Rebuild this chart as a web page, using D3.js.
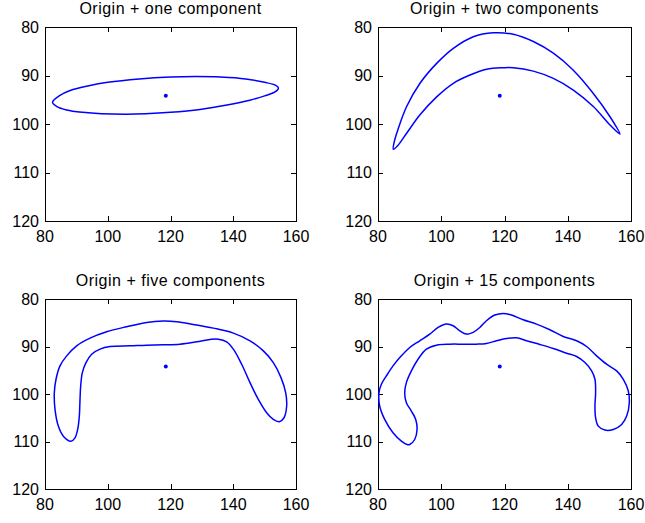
<!DOCTYPE html>
<html>
<head>
<meta charset="utf-8">
<script src="https://cdn.jsdelivr.net/npm/d3@7"></script>
<style>
  body { margin: 0; background: #fff; }
  svg { display: block; }
  text { font-family: "Liberation Sans", Arial, Helvetica, sans-serif; fill: #000; }
</style>
</head>
<body>
<div id="chart"></div>
<script>
// panel titles, ticks and the mean point
var titles = ["Origin + one component", "Origin + two components",
              "Origin + five components", "Origin + 15 components"];
var xTicks = [80, 100, 120, 140, 160];
var yTicks = [80, 90, 100, 110, 120];
var origin = [118.5, 94.2];

// outlines, [x, y] in data units
var oneComponent = [
  [82.4, 95.5], [84.5, 94.2], [88, 93.1], [94, 92.1], [100, 91.4], [110, 90.7],
  [120, 90.3], [128, 90.2], [136, 90.3], [144, 90.7], [150, 91.4], [153.4, 92.0],
  [154.4, 92.6], [153.3, 93.4], [150, 94.2], [145.3, 95.1], [138, 96.1],
  [129.4, 97.0], [120, 97.6], [112, 97.9], [106, 98.0], [98, 97.9], [92, 97.6],
  [86.9, 97.1], [83.8, 96.4]
];
var twoComponents = [
  [84.85, 105.2], [85.2, 103.5], [86.43, 100.9], [89.06, 96.4], [93.28, 91.6],
  [98.55, 87.5], [103.82, 84.4], [110.14, 82.0], [116.47, 81.2], [122.79, 81.5],
  [129.12, 83.0], [135.44, 85.4], [141.76, 88.9], [148.09, 93.7], [153.36, 98.5],
  [156.52, 102.1], [153.36, 100.2], [148.09, 96.4], [141.76, 93.0], [135.44, 90.6],
  [129.12, 89.1], [122.79, 88.4], [119.63, 88.4], [114.36, 88.7], [109.09, 89.9],
  [103.82, 91.6], [98.55, 94.4], [93.28, 98.1], [89.06, 101.9], [86.2, 104.5]
];
var fiveComponents = [
  [88.29, 109.93], [85.84, 108.87], [84.25, 106.76], [83.19, 103.24], [82.97, 99.72],
  [83.51, 96.9], [84.78, 94.08], [86.91, 91.97], [90.09, 89.86], [94.34, 88.24],
  [99.65, 86.9], [106.03, 85.84], [112.4, 84.93], [117.72, 84.65], [121.96, 84.79],
  [127.28, 85.35], [133.65, 86.13], [140.03, 87.18], [145.34, 88.8], [149.59, 90.92],
  [152.77, 93.38], [155.22, 96.55], [156.71, 99.72], [157.02, 102.53], [156.18, 105.0],
  [154.69, 105.84], [152.77, 105.35], [150.65, 103.94], [147.99, 101.13], [145.34, 97.61],
  [142.68, 93.73], [140.03, 90.56], [137.9, 89.01], [135.25, 88.45], [132.59, 88.52],
  [128.34, 89.01], [123.03, 89.51], [117.72, 89.65], [112.4, 89.72], [107.09, 89.86],
  [100.72, 90.0], [97.53, 90.56], [94.87, 91.62], [93.07, 93.38], [91.9, 95.49],
  [91.37, 98.31], [91.16, 101.13], [90.94, 104.65], [90.41, 107.46], [89.56, 109.22]
];
var fifteenComponents = [
  [89.18, 110.63], [87.39, 109.93], [84.75, 108.17], [82.11, 105.35], [80.53, 102.53],
  [80.32, 99.72], [81.06, 97.96], [82.64, 96.2], [84.75, 94.08], [87.39, 91.97],
  [90.03, 90.21], [93.19, 88.8], [96.36, 87.39], [99.0, 85.99], [101.64, 85.28],
  [103.75, 85.63], [105.86, 86.69], [107.97, 87.39], [110.08, 87.04], [112.19, 85.99],
  [114.3, 84.58], [116.94, 83.38], [119.58, 83.03], [122.22, 83.38], [125.91, 84.37],
  [130.13, 85.28], [134.35, 86.48], [138.57, 87.89], [142.8, 88.8], [145.96, 90.0],
  [149.13, 91.97], [152.29, 93.73], [155.46, 95.14], [157.57, 96.9], [159.15, 99.37],
  [159.47, 101.83], [158.63, 104.65], [157.04, 106.41], [154.41, 107.46], [151.77, 107.6],
  [149.66, 106.76], [148.81, 105.0], [148.6, 102.53], [148.81, 99.72], [148.6, 96.9],
  [147.55, 95.14], [145.44, 93.38], [142.8, 92.11], [139.63, 91.41], [135.41, 90.42],
  [131.19, 89.58], [126.97, 88.8], [123.8, 88.17], [120.63, 88.31], [117.47, 88.8],
  [114.3, 89.37], [111.13, 89.51], [106.91, 89.51], [102.69, 89.51], [98.47, 89.72],
  [95.3, 90.56], [92.66, 92.68], [90.55, 95.14], [88.97, 97.61], [88.44, 99.72],
  [88.97, 101.83], [90.55, 103.59], [91.93, 105.35], [92.35, 107.46], [91.61, 109.58],
  [90.03, 110.63]
];

var shapes = [oneComponent, twoComponents, fiveComponents, fifteenComponents];

var width = 645, height = 523;
// axes boxes (left, right, top, bottom) of the 2x2 grid
var cols = [[45, 296], [378, 631]];
var rows = [[27, 221], [299, 489]];

var svg = d3.select("#chart").append("svg")
    .attr("width", width)
    .attr("height", height);

shapes.forEach(function(shape, i) {
  var c = cols[i % 2], r = rows[Math.floor(i / 2)];
  var x = d3.scaleLinear().domain([80, 160]).range(c);
  var y = d3.scaleLinear().domain([80, 120]).range(r);   // y grows downward

  var g = svg.append("g");

  // box plus inward ticks on all four sides, matlab style
  g.append("rect")
      .attr("x", c[0] + 0.5).attr("y", r[0] + 0.5)
      .attr("width", c[1] - c[0]).attr("height", r[1] - r[0])
      .attr("fill", "none").attr("stroke", "#000").attr("stroke-width", 1);

  var tickLen = 5;
  xTicks.forEach(function(t) {
    var px = Math.round(x(t)) + 0.5;
    g.append("line").attr("x1", px).attr("x2", px)
        .attr("y1", r[1]).attr("y2", r[1] - tickLen).attr("stroke", "#000");
    g.append("line").attr("x1", px).attr("x2", px)
        .attr("y1", r[0]).attr("y2", r[0] + tickLen).attr("stroke", "#000");
    g.append("text")
        .attr("x", x(t)).attr("y", r[1] + 21)
        .attr("text-anchor", "middle")
        .style("font-size", "16px")
        .text(t);
  });
  yTicks.forEach(function(t) {
    var py = Math.round(y(t)) + 0.5;
    g.append("line").attr("x1", c[0]).attr("x2", c[0] + tickLen)
        .attr("y1", py).attr("y2", py).attr("stroke", "#000");
    g.append("line").attr("x1", c[1]).attr("x2", c[1] - tickLen)
        .attr("y1", py).attr("y2", py).attr("stroke", "#000");
    g.append("text")
        .attr("x", c[0] - 6).attr("y", y(t))
        .attr("dy", "0.36em")
        .attr("text-anchor", "end")
        .style("font-size", "16px")
        .text(t);
  });

  g.append("text")
      .attr("x", (c[0] + c[1]) / 2).attr("y", r[0] - 13)
      .attr("text-anchor", "middle")
      .style("font-size", "16px")
      .style("letter-spacing", "0.5px")
      .text(titles[i]);

  var line = d3.line()
      .x(function(d) { return x(d[0]); })
      .y(function(d) { return y(d[1]); })
      .curve(d3.curveCatmullRomClosed.alpha(0.5));

  g.append("path")
      .datum(shape)
      .attr("d", line)
      .attr("fill", "none")
      .attr("stroke", "#0000ff")
      .attr("stroke-width", 1.5);

  g.append("circle")
      .attr("cx", x(origin[0])).attr("cy", y(origin[1]))
      .attr("r", 2)
      .attr("fill", "#0000ff");
});
</script>
</body>
</html>
